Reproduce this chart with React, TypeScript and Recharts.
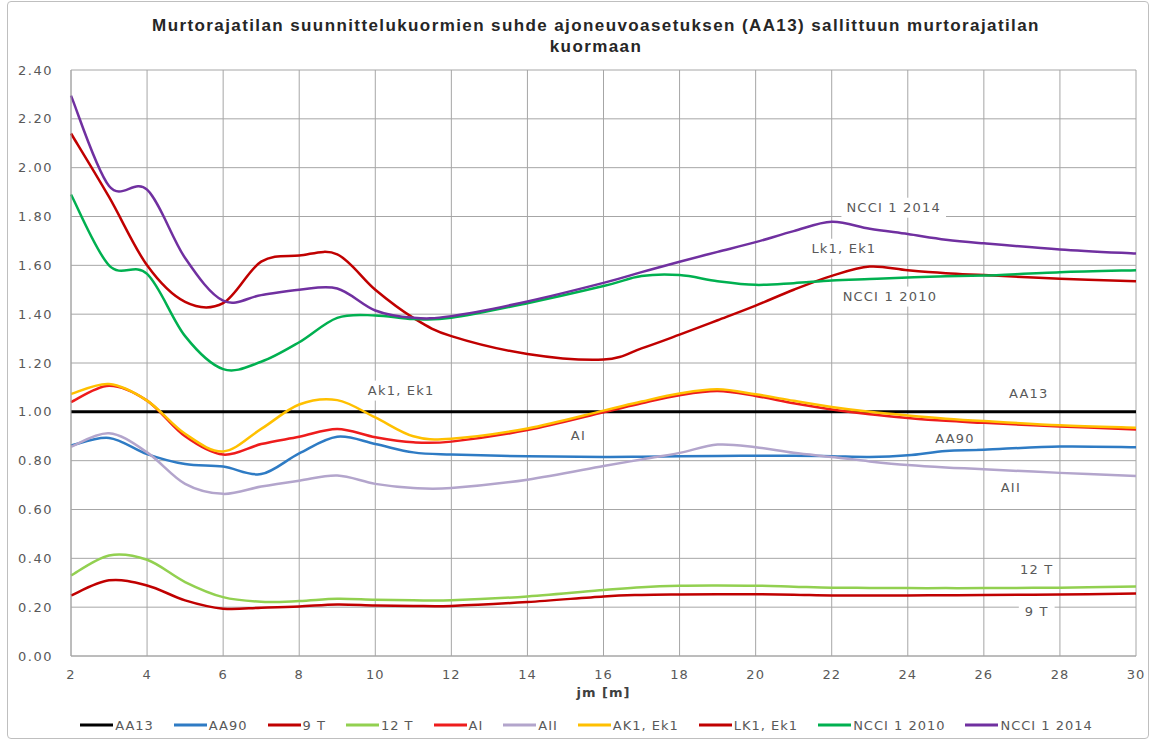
import React from 'react';
import { LineChart, Line, XAxis, YAxis, CartesianGrid, Legend, ReferenceDot } from 'recharts';

const jm = [2, 3, 4, 5, 6, 7, 8, 9, 10, 11, 12, 14, 16, 17, 18, 19, 20, 21, 22, 23, 24, 25, 26, 28, 30];
const aa13 = [1, 1, 1, 1, 1, 1, 1, 1, 1, 1, 1, 1, 1, 1, 1, 1, 1, 1, 1, 1, 1, 1, 1, 1, 1];
const aa90 = [0.862, 0.893, 0.827, 0.786, 0.776, 0.745, 0.83, 0.898, 0.868, 0.834, 0.825, 0.818, 0.815, 0.816, 0.818, 0.819, 0.82, 0.82, 0.818, 0.815, 0.822, 0.84, 0.845, 0.858, 0.855];
const t9 = [0.248, 0.31, 0.289, 0.228, 0.194, 0.198, 0.203, 0.211, 0.207, 0.205, 0.205, 0.221, 0.244, 0.25, 0.252, 0.253, 0.253, 0.251, 0.248, 0.248, 0.248, 0.249, 0.25, 0.252, 0.256];
const t12 = [0.33, 0.412, 0.394, 0.303, 0.241, 0.222, 0.225, 0.234, 0.23, 0.228, 0.228, 0.244, 0.27, 0.282, 0.288, 0.289, 0.288, 0.284, 0.28, 0.279, 0.278, 0.278, 0.278, 0.28, 0.285];
const ai = [1.04, 1.107, 1.046, 0.9, 0.825, 0.868, 0.898, 0.93, 0.896, 0.875, 0.878, 0.925, 0.998, 1.035, 1.068, 1.085, 1.065, 1.035, 1.01, 0.99, 0.975, 0.963, 0.955, 0.94, 0.928];
const aii = [0.857, 0.912, 0.834, 0.705, 0.664, 0.694, 0.718, 0.739, 0.705, 0.688, 0.688, 0.722, 0.778, 0.805, 0.832, 0.866, 0.855, 0.832, 0.815, 0.797, 0.782, 0.772, 0.765, 0.75, 0.737];
const ak1 = [1.073, 1.114, 1.046, 0.91, 0.838, 0.93, 1.03, 1.048, 0.977, 0.9, 0.89, 0.932, 1.005, 1.042, 1.075, 1.092, 1.072, 1.045, 1.02, 1.0, 0.985, 0.972, 0.962, 0.945, 0.935];
const lk1 = [2.14, 1.88, 1.6, 1.45, 1.445, 1.615, 1.64, 1.645, 1.5, 1.385, 1.31, 1.237, 1.214, 1.26, 1.316, 1.375, 1.435, 1.5, 1.557, 1.595, 1.58, 1.568, 1.56, 1.545, 1.535];
const ncci2010 = [1.89, 1.6, 1.565, 1.31, 1.175, 1.205, 1.285, 1.385, 1.395, 1.38, 1.385, 1.445, 1.515, 1.556, 1.56, 1.535, 1.52, 1.527, 1.538, 1.544, 1.55, 1.555, 1.558, 1.572, 1.58];
const ncci2014 = [2.295, 1.925, 1.91, 1.63, 1.455, 1.478, 1.5, 1.505, 1.415, 1.385, 1.392, 1.452, 1.528, 1.572, 1.615, 1.655, 1.695, 1.74, 1.778, 1.75, 1.728, 1.705, 1.69, 1.665, 1.648];

const xTicks = [2, 4, 6, 8, 10, 12, 14, 16, 18, 20, 22, 24, 26, 28, 30];
const yTicks = [0, 0.2, 0.4, 0.6, 0.8, 1.0, 1.2, 1.4, 1.6, 1.8, 2.0, 2.2, 2.4];

const seriesNames = ['AA13', 'AA90', '9 T', '12 T', 'AI', 'AII', 'AK1, Ek1', 'LK1, Ek1', 'NCCI 1 2010', 'NCCI 1 2014'];
const seriesKeys = ['aa13', 'aa90', 't9', 't12', 'ai', 'aii', 'ak1', 'lk1', 'ncci2010', 'ncci2014'];
const seriesColors = ['#000000', '#2e7bc4', '#c00000', '#92d050', '#ee1c1c', '#b3a5cc', '#ffc000', '#c00000', '#00b050', '#7030a0'];
const seriesValues = [aa13, aa90, t9, t12, ai, aii, ak1, lk1, ncci2010, ncci2014];

const labelTexts = ['NCCI 1 2014', 'Lk1, Ek1', 'NCCI 1 2010', 'Ak1, Ek1', 'AA13', 'AI', 'AA90', 'AII', '12 T', '9 T'];
const labelX = [23.63, 22.32, 23.53, 10.68, 27.18, 15.34, 25.24, 26.71, 27.39, 27.39];
const labelY = [1.836, 1.668, 1.472, 1.087, 1.075, 0.904, 0.891, 0.691, 0.356, 0.184];

const data = jm.map((x, i) => {
  const row: Record<string, number> = { x };
  seriesKeys.forEach((k, s) => {
    row[k] = seriesValues[s][i];
  });
  return row;
});

// Smooth Catmull-Rom style curve (like spreadsheet "smoothed line")
function smoothCurve(context: any) {
  let pts: number[][] = [];
  return {
    areaStart() {},
    areaEnd() {},
    lineStart() {
      pts = [];
    },
    point(x: number, y: number) {
      pts.push([+x, +y]);
    },
    lineEnd() {
      const n = pts.length;
      if (n === 0) return;
      context.moveTo(pts[0][0], pts[0][1]);
      if (n === 1) return;
      for (let i = 0; i < n - 1; i++) {
        const p0 = pts[i - 1] || pts[i];
        const p1 = pts[i];
        const p2 = pts[i + 1];
        const p3 = pts[i + 2] || p2;
        const c1x = p1[0] + (p2[0] - p0[0]) / 6;
        const c1y = p1[1] + (p2[1] - p0[1]) / 6;
        const c2x = p2[0] - (p3[0] - p1[0]) / 6;
        const c2y = p2[1] - (p3[1] - p1[1]) / 6;
        context.bezierCurveTo(c1x, c1y, c2x, c2y, p2[0], p2[1]);
      }
    },
  };
}

const FONT = '"DejaVu Sans", Verdana, sans-serif';
const TEXT_COLOR = '#595959';

function PlotLabel(props: any) {
  const vb = props.viewBox || {};
  const cx = (vb.x ?? 0) + (vb.width ?? 0) / 2;
  const cy = (vb.y ?? 0) + (vb.height ?? 0) / 2;
  const text: string = props.text;
  const w = text.length * 8.6 + 10;
  return (
    <g>
      <rect x={cx - w / 2} y={cy - 10} width={w} height={20} fill="#ffffff" />
      <text
        x={cx}
        y={cy}
        textAnchor="middle"
        dominantBaseline="central"
        fontFamily={FONT}
        fontSize={13}
        letterSpacing={1.2}
        fill={TEXT_COLOR}
      >
        {text}
      </text>
    </g>
  );
}

function LegendContent() {
  return (
    <div
      style={{
        display: 'flex',
        justifyContent: 'center',
        alignItems: 'center',
        height: 20,
        paddingLeft: 37,
        fontFamily: FONT,
        fontSize: 13,
        letterSpacing: 1,
        color: TEXT_COLOR,
      }}
    >
      {seriesNames.map((n, i) => (
        <div key={n} style={{ display: 'flex', alignItems: 'center', marginRight: i < seriesNames.length - 1 ? 20 : 0 }}>
          <svg width={33} height={4} style={{ marginRight: 2 }}>
            <line x1={0} y1={2} x2={33} y2={2} stroke={seriesColors[i]} strokeWidth={3} />
          </svg>
          <span>{n}</span>
        </div>
      ))}
    </div>
  );
}

export default function App() {
  return (
    <div style={{ position: 'absolute', left: 0, top: 0, width: 1149, height: 741, background: '#ffffff', overflow: 'hidden' }}>
      <div
        style={{
          position: 'absolute',
          left: 7,
          top: 1,
          width: 1140,
          height: 736,
          border: '1px solid #bfbfbf',
          borderRadius: 4,
        }}
      />
      <div
        style={{
          position: 'absolute',
          left: 0,
          top: 15,
          width: 1192,
          textAlign: 'center',
          fontFamily: '"Liberation Sans", Arial, sans-serif',
          fontWeight: 'bold',
          fontSize: 17,
          letterSpacing: 1.4,
          lineHeight: '21px',
          color: '#262626',
        }}
      >
        Murtorajatilan suunnittelukuormien suhde ajoneuvoasetuksen (AA13) sallittuun murtorajatilan
        <br />
        kuormaan
      </div>
      <div style={{ position: 'absolute', left: 0, top: 0 }}>
        <LineChart width={1149} height={741} data={data} margin={{ top: 70, right: 13, left: 0, bottom: 6 }}>
          <CartesianGrid stroke="#a6a6a6" strokeWidth={1} />
          <XAxis
            dataKey="x"
            type="number"
            domain={[2, 30]}
            ticks={xTicks}
            height={59}
            tickLine={false}
            axisLine={{ stroke: '#a6a6a6' }}
            tickMargin={8}
            tick={{ fontFamily: FONT, fontSize: 13, fill: TEXT_COLOR, letterSpacing: 1 }}
            label={{
              value: 'jm [m]',
              position: 'insideBottom',
              offset: 18,
              style: { fontFamily: FONT, fontSize: 13, fontWeight: 'bold', fill: '#404040', letterSpacing: 1 },
            }}
          />
          <YAxis
            type="number"
            domain={[0, 2.4]}
            ticks={yTicks}
            width={71}
            tickLine={false}
            axisLine={{ stroke: '#a6a6a6' }}
            tickMargin={12}
            tickFormatter={(v: number) => v.toFixed(2)}
            tick={{ fontFamily: FONT, fontSize: 13, fill: TEXT_COLOR, letterSpacing: 1.5 }}
          />
          <Legend verticalAlign="bottom" content={<LegendContent />} />
          {seriesKeys.map((k, i) => (
            <Line
              key={k}
              dataKey={k}
              name={seriesNames[i]}
              type={smoothCurve as any}
              stroke={seriesColors[i]}
              strokeWidth={k === 'aa13' ? 3 : 2.5}
              dot={false}
              activeDot={false}
              isAnimationActive={false}
            />
          ))}
          {labelTexts.map((t, i) => (
            <ReferenceDot
              key={t}
              x={labelX[i]}
              y={labelY[i]}
              r={0}
              fill="none"
              stroke="none"
              label={(p: any) => <PlotLabel {...p} text={t} />}
            />
          ))}
        </LineChart>
      </div>
    </div>
  );
}
